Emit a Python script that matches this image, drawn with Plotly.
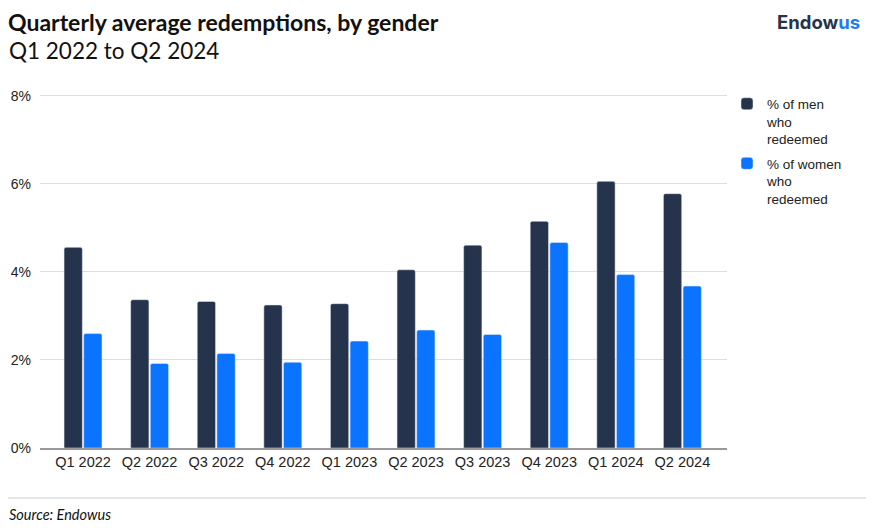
import plotly.graph_objects as go

# Quarterly redemption rates (%)
quarters = ["Q1 2022", "Q2 2022", "Q3 2022", "Q4 2022", "Q1 2023",
            "Q2 2023", "Q3 2023", "Q4 2023", "Q1 2024", "Q2 2024"]
men = [4.56, 3.37, 3.33, 3.25, 3.28, 4.05, 4.61, 5.15, 6.06, 5.78]
women = [2.60, 1.92, 2.15, 1.95, 2.43, 2.68, 2.58, 4.67, 3.94, 3.68]
y_ticks = [0, 2, 4, 6, 8]
y_tick_labels = ["0%", "2%", "4%", "6%", "8%"]

navy = "#25344C"
blue = "#0A73FF"

# figure sits inside the page's 8px body margin
W, H = 866, 524
L, R, T, B = 32, 147, 84, 84
PW, PH = W - L - R, H - T - B

fig = go.Figure()
fig.add_trace(go.Bar(x=quarters, y=men, name="% of men<br>who<br>redeemed",
                     legendgroup="men",
                     marker=dict(color=navy, cornerradius=2)))
fig.add_trace(go.Bar(x=quarters, y=women, name="% of women<br>who<br>redeemed",
                     legendgroup="women",
                     marker=dict(color=blue, cornerradius=2)))

fig.update_layout(
    width=W, height=H,
    margin=dict(l=L, r=R, t=T, b=B),
    paper_bgcolor="white", plot_bgcolor="white",
    barmode="group", bargap=0.41, bargroupgap=0.07,
    font=dict(family="Liberation Sans", size=14, color="#222222"),
    legend=dict(x=1.0, y=1.01, xanchor="left", yanchor="top",
                font=dict(family="Liberation Sans", size=13.5, color="#222222"),
                tracegroupgap=4, itemwidth=30, valign="top"),
    showlegend=True,
)
fig.update_xaxes(range=[-0.646, 9.67], showgrid=False, showline=True,
                 linecolor="#999999", linewidth=2, ticks="", automargin=False,
                 tickfont=dict(family="Liberation Sans", size=14.5, color="#222222"))
fig.update_yaxes(range=[0, 8.09], tickvals=y_ticks, ticktext=y_tick_labels,
                 gridcolor="#dddddd", gridwidth=1, zeroline=False,
                 ticklabelstandoff=8, automargin=False,
                 tickfont=dict(family="Liberation Sans", size=14, color="#222222"))

# Title block
fig.add_annotation(text="<b>Quarterly average redemptions, by gender</b>",
                   xref="paper", yref="paper", x=-L/PW, y=1 + T/PH,
                   xanchor="left", yanchor="top", showarrow=False, borderpad=0,
                   font=dict(family="Lato", size=23, color="#111111"), xshift=-1, yshift=1)
fig.add_annotation(text="Q1 2022 to Q2 2024",
                   xref="paper", yref="paper", x=-L/PW, y=1 + T/PH,
                   xanchor="left", yanchor="top", showarrow=False,
                   font=dict(family="Lato", size=22.5, color="#111111"), xshift=-1, yshift=-27)
fig.add_annotation(text="<b>Endow<span style='color:#1F7BF2'>us</span></b>",
                   xref="paper", yref="paper", x=1 + R/PW, y=1 + T/PH,
                   xanchor="right", yanchor="top", showarrow=False,
                   font=dict(family="Inter", size=18.5, color=navy), xshift=-12, yshift=-1)

# Footer rule and source
fig.add_shape(type="line", xref="paper", yref="paper",
              x0=-L/PW, x1=1 + R/PW, y0=-50/PH, y1=-50/PH,
              line=dict(color="#cccccc", width=1))
fig.add_annotation(text="<i>Source: Endowus</i>",
                   xref="paper", yref="paper", x=-L/PW, y=-56/PH,
                   xanchor="left", yanchor="top", showarrow=False,
                   font=dict(family="Lato", size=14.5, color="#111111"), xshift=-1)

fig.write_html("out.html")
